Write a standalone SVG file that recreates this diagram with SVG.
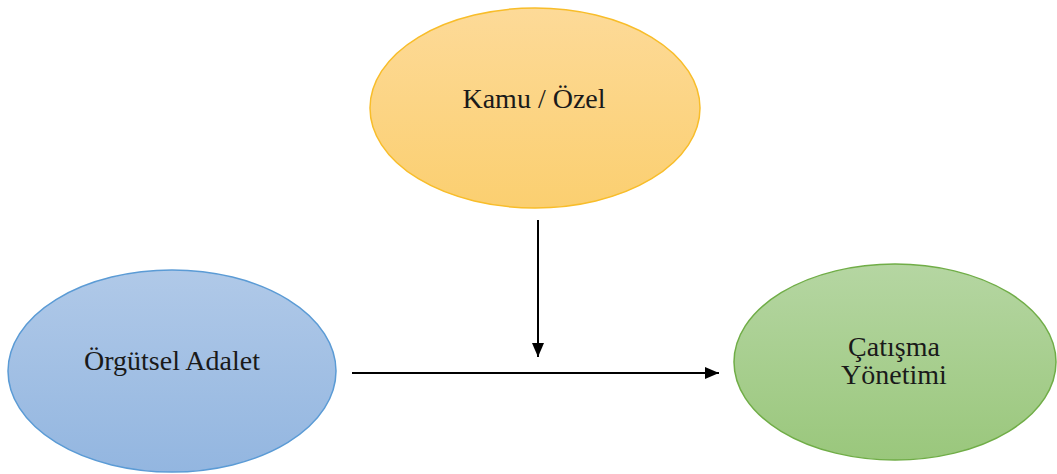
<svg xmlns="http://www.w3.org/2000/svg" width="1057" height="474" viewBox="0 0 1057 474">
<style>
.lbl{font-family:"Liberation Serif","Times New Roman",serif;font-size:28px;fill:#1a1a1a;text-anchor:middle}
.conn{stroke:#000;stroke-width:2;fill:none;marker-end:url(#arr)}
</style>
<defs>
<linearGradient id="gO" x1="0" y1="0" x2="0" y2="1"><stop offset="0" stop-color="#fdda98"/><stop offset="1" stop-color="#fbcf70"/></linearGradient>
<linearGradient id="gB" x1="0" y1="0" x2="0" y2="1"><stop offset="0" stop-color="#b0c9e8"/><stop offset="1" stop-color="#93b6e0"/></linearGradient>
<linearGradient id="gG" x1="0" y1="0" x2="0" y2="1"><stop offset="0" stop-color="#b5d6a2"/><stop offset="1" stop-color="#9ac77c"/></linearGradient>
<marker id="arr" markerWidth="14" markerHeight="14" refX="14" refY="7" orient="auto" markerUnits="userSpaceOnUse" viewBox="0 0 14 14"><path d="M0,1 L14,7 L0,13 Z" fill="#000"/></marker>
</defs>
<rect width="1057" height="474" fill="#fff"/>
<g id="connectors">
<line class="conn" x1="538" y1="220" x2="538" y2="357" />
<line class="conn" x1="352" y1="373" x2="719" y2="373" />
</g>
<g id="kamu">
<ellipse cx="535" cy="108" rx="165" ry="100" fill="url(#gO)" stroke="#f8bd2a" stroke-width="1.5"/>
<text class="lbl" x="534" y="108">Kamu / Özel</text>
</g>
<g id="orgutsel">
<ellipse cx="172" cy="371" rx="164" ry="101" fill="url(#gB)" stroke="#5b9bd5" stroke-width="1.5"/>
<text class="lbl" x="172" y="370">Örgütsel Adalet</text>
</g>
<g id="catisma">
<ellipse cx="895" cy="362" rx="161" ry="98" fill="url(#gG)" stroke="#70ad47" stroke-width="1.5"/>
<text class="lbl" x="894" y="356">Çatışma</text>
<text class="lbl" x="894" y="384">Yönetimi</text>
</g>
</svg>
